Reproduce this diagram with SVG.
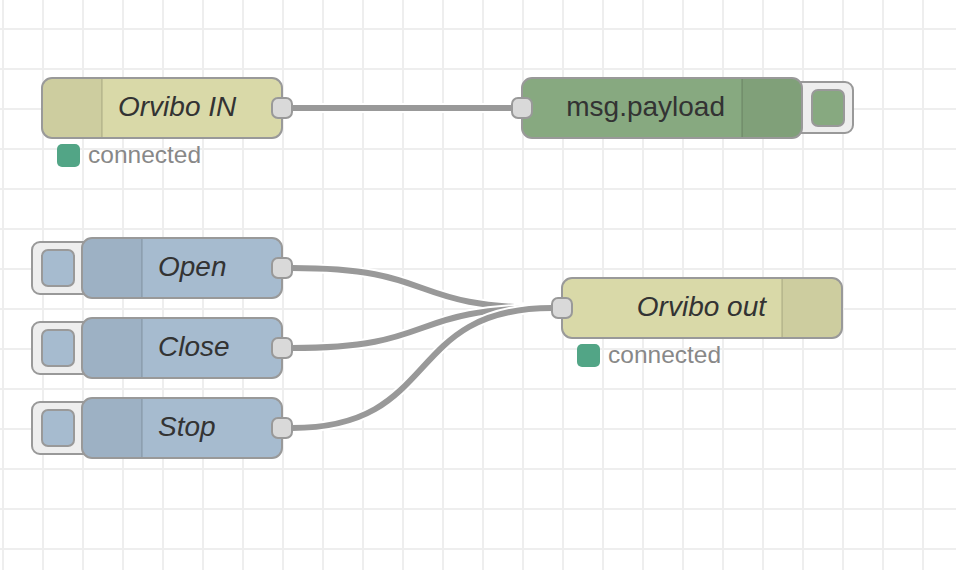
<svg xmlns="http://www.w3.org/2000/svg" width="956" height="570" viewBox="0 0 956 570">
<defs>
<pattern id="grid" x="2" y="28" width="40" height="40" patternUnits="userSpaceOnUse">
<path d="M0 0H40M0 0V40" fill="none" stroke="#eeeeee" stroke-width="4"/>
</pattern>
</defs>
<style>
.node{stroke:#999;stroke-width:2}
.iconbg{fill:#000;fill-opacity:0.05}
.div{stroke:#000;stroke-opacity:0.1;stroke-width:2}
.port{fill:#d9d9d9;stroke:#999;stroke-width:2}
.btn{fill:#eee;stroke:#999;stroke-width:2}
.lbl{font-family:"Liberation Sans",Arial,sans-serif;font-size:28px;fill:#333}
.it{font-style:italic}
.st{font-family:"Liberation Sans",Arial,sans-serif;font-size:24.5px;fill:#888}
.dot{fill:#52a586}
.wo{fill:none;stroke:#fff;stroke-width:10}
.wl{fill:none;stroke:#999;stroke-width:6}
</style>
<rect width="956" height="570" fill="#fff"/>
<rect width="956" height="570" fill="url(#grid)"/>

<g id="connectors">
<path class="wo" d="M292 108 C442 108 362 108 512 108"/>
<path class="wl" d="M292 108 C442 108 362 108 512 108"/>
<path class="wo" d="M292 268 C442 268 402 308 552 308"/>
<path class="wl" d="M292 268 C442 268 402 308 552 308"/>
<path class="wo" d="M292 348 C442 348 402 308 552 308"/>
<path class="wl" d="M292 348 C442 348 402 308 552 308"/>
<path class="wo" d="M292 428 C442 428 402 308 552 308"/>
<path class="wl" d="M292 428 C442 428 402 308 552 308"/>
</g>

<g id="orvibo-in">
<rect class="node" x="42" y="78" width="240" height="60" rx="10" fill="#d9d9a8"/>
<path class="iconbg" d="M52 79 H102 V137 H52 A9 9 0 0 1 43 128 V88 A9 9 0 0 1 52 79 Z"/>
<line class="div" x1="102" y1="79" x2="102" y2="137"/>
<text class="lbl it" x="118" y="116">Orvibo IN</text>
<rect class="port" x="272" y="98" width="20" height="20" rx="6"/>
<rect class="dot" x="57" y="144" width="23" height="23" rx="5"/>
<text class="st" x="88" y="163">connected</text>
</g>

<g id="msg-payload">
<rect class="btn" x="790" y="82" width="63" height="51" rx="8"/>
<rect class="node" x="522" y="78" width="280" height="60" rx="10" fill="#87a980"/>
<path class="iconbg" d="M742 79 H792 A9 9 0 0 1 801 88 V128 A9 9 0 0 1 792 137 H742 Z"/>
<line class="div" x1="742" y1="79" x2="742" y2="137"/>
<text class="lbl" x="725" y="116" text-anchor="end">msg.payload</text>
<rect class="port" x="512" y="98" width="20" height="20" rx="6"/>
<rect x="812" y="90" width="32" height="36" rx="6" fill="#87a980" stroke="#999" stroke-width="2"/>
</g>

<g id="open">
<rect class="btn" x="32" y="242" width="60" height="52" rx="8"/>
<rect x="42" y="250" width="32" height="36" rx="6" fill="#a6bbcf" stroke="#999" stroke-width="2"/>
<rect class="node" x="82" y="238" width="200" height="60" rx="10" fill="#a6bbcf"/>
<path class="iconbg" d="M92 239 H142 V297 H92 A9 9 0 0 1 83 288 V248 A9 9 0 0 1 92 239 Z"/>
<line class="div" x1="142" y1="239" x2="142" y2="297"/>
<text class="lbl it" x="158" y="276">Open</text>
<rect class="port" x="272" y="258" width="20" height="20" rx="6"/>
</g>

<g id="close">
<rect class="btn" x="32" y="322" width="60" height="52" rx="8"/>
<rect x="42" y="330" width="32" height="36" rx="6" fill="#a6bbcf" stroke="#999" stroke-width="2"/>
<rect class="node" x="82" y="318" width="200" height="60" rx="10" fill="#a6bbcf"/>
<path class="iconbg" d="M92 319 H142 V377 H92 A9 9 0 0 1 83 368 V328 A9 9 0 0 1 92 319 Z"/>
<line class="div" x1="142" y1="319" x2="142" y2="377"/>
<text class="lbl it" x="158" y="356">Close</text>
<rect class="port" x="272" y="338" width="20" height="20" rx="6"/>
</g>

<g id="stop">
<rect class="btn" x="32" y="402" width="60" height="52" rx="8"/>
<rect x="42" y="410" width="32" height="36" rx="6" fill="#a6bbcf" stroke="#999" stroke-width="2"/>
<rect class="node" x="82" y="398" width="200" height="60" rx="10" fill="#a6bbcf"/>
<path class="iconbg" d="M92 399 H142 V457 H92 A9 9 0 0 1 83 448 V408 A9 9 0 0 1 92 399 Z"/>
<line class="div" x1="142" y1="399" x2="142" y2="457"/>
<text class="lbl it" x="158" y="436">Stop</text>
<rect class="port" x="272" y="418" width="20" height="20" rx="6"/>
</g>

<g id="orvibo-out">
<rect class="node" x="562" y="278" width="280" height="60" rx="10" fill="#d9d9a8"/>
<path class="iconbg" d="M782 279 H832 A9 9 0 0 1 841 288 V328 A9 9 0 0 1 832 337 H782 Z"/>
<line class="div" x1="782" y1="279" x2="782" y2="337"/>
<text class="lbl it" x="766" y="316" text-anchor="end">Orvibo out</text>
<rect class="port" x="552" y="298" width="20" height="20" rx="6"/>
<rect class="dot" x="577" y="344" width="23" height="23" rx="5"/>
<text class="st" x="608" y="363">connected</text>
</g>
</svg>
